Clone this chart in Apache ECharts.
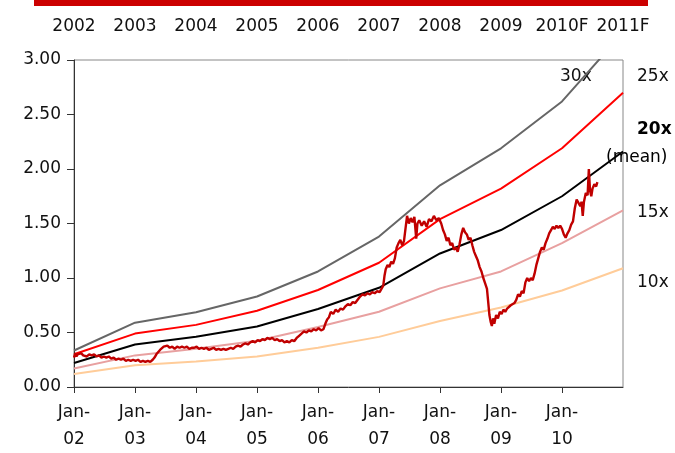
<!DOCTYPE html>
<html>
<head>
<meta charset="utf-8">
<script src="https://cdn.jsdelivr.net/npm/echarts@6/dist/echarts.min.js"></script>
<style>
  html, body { margin: 0; padding: 0; background: #fff; }
  #chart { width: 675px; height: 453px; }
</style>
</head>
<body>
<div id="chart"></div>
<script>
// PE band years (Jan of each year) and band values
var bandYears = [2002, 2003, 2004, 2005, 2006, 2007, 2008, 2009, 2010, 2011];
var pe30 = [0.335, 0.59, 0.685, 0.83, 1.06, 1.38, 1.85, 2.19, 2.62, 3.25];
var pe25 = [0.30, 0.49, 0.57, 0.70, 0.89, 1.14, 1.54, 1.82, 2.19, 2.70];
var pe20 = [0.22, 0.39, 0.46, 0.555, 0.715, 0.91, 1.225, 1.44, 1.75, 2.16];
var pe15 = [0.17, 0.29, 0.35, 0.425, 0.55, 0.69, 0.905, 1.06, 1.32, 1.62];
var pe10 = [0.12, 0.20, 0.235, 0.28, 0.36, 0.46, 0.605, 0.73, 0.885, 1.09];

var topLabels = ['2002', '2003', '2004', '2005', '2006', '2007', '2008', '2009', '2010F', '2011F'];
var bottomLabels = ['Jan-\n02', 'Jan-\n03', 'Jan-\n04', 'Jan-\n05', 'Jan-\n06', 'Jan-\n07', 'Jan-\n08', 'Jan-\n09', 'Jan-\n10'];
var yTicks = [0, 0.5, 1, 1.5, 2, 2.5, 3];

// share price, [year, value]
var price = [
  [2002.00,0.27],[2002.02,0.31],[2002.04,0.28],[2002.06,0.30],[2002.09,0.29],[2002.12,0.31],[2002.15,0.29],[2002.18,0.30],
  [2002.21,0.28],[2002.25,0.30],[2002.29,0.29],[2002.33,0.30],[2002.37,0.28],[2002.41,0.29],[2002.45,0.27],[2002.49,0.28],
  [2002.53,0.27],[2002.57,0.28],[2002.61,0.26],[2002.65,0.27],[2002.69,0.25],[2002.73,0.26],[2002.77,0.25],[2002.81,0.26],
  [2002.85,0.24],[2002.89,0.25],[2002.93,0.24],[2002.97,0.25],[2003.01,0.24],[2003.05,0.25],[2003.09,0.23],[2003.13,0.24],
  [2003.17,0.23],[2003.21,0.24],[2003.25,0.23],[2003.29,0.25],[2003.32,0.27],[2003.35,0.30],[2003.38,0.29],[2003.41,0.34],
  [2003.44,0.33],[2003.47,0.37],[2003.50,0.36],[2003.53,0.38],[2003.57,0.36],[2003.61,0.37],[2003.65,0.35],[2003.69,0.37],
  [2003.73,0.36],[2003.77,0.37],[2003.81,0.36],[2003.85,0.37],[2003.89,0.35],[2003.93,0.36],[2003.97,0.36],[2004.01,0.37],
  [2004.05,0.35],[2004.09,0.36],[2004.13,0.35],[2004.17,0.36],[2004.21,0.34],[2004.25,0.35],[2004.29,0.36],[2004.33,0.34],
  [2004.37,0.35],[2004.41,0.34],[2004.45,0.35],[2004.49,0.34],[2004.53,0.35],[2004.57,0.36],[2004.61,0.35],[2004.65,0.37],
  [2004.69,0.38],[2004.73,0.37],[2004.77,0.39],[2004.81,0.40],[2004.85,0.39],[2004.89,0.41],[2004.93,0.42],[2004.97,0.41],
  [2005.01,0.43],[2005.05,0.42],[2005.09,0.44],[2005.13,0.43],[2005.17,0.45],[2005.21,0.44],[2005.25,0.45],[2005.29,0.43],
  [2005.33,0.44],[2005.37,0.42],[2005.41,0.43],[2005.45,0.41],[2005.49,0.42],[2005.53,0.41],[2005.57,0.43],[2005.61,0.42],
  [2005.65,0.45],[2005.69,0.47],[2005.73,0.49],[2005.77,0.51],[2005.81,0.50],[2005.85,0.52],[2005.89,0.51],[2005.93,0.53],
  [2005.97,0.52],[2006.01,0.54],[2006.05,0.52],[2006.09,0.53],[2006.12,0.58],[2006.15,0.62],[2006.18,0.64],[2006.21,0.69],
  [2006.25,0.67],[2006.29,0.71],[2006.33,0.69],[2006.37,0.72],[2006.41,0.71],[2006.45,0.74],[2006.49,0.76],[2006.53,0.75],
  [2006.57,0.78],[2006.61,0.77],[2006.65,0.80],[2006.69,0.83],[2006.73,0.85],[2006.77,0.84],[2006.81,0.86],[2006.85,0.85],
  [2006.89,0.87],[2006.93,0.86],[2006.97,0.88],[2007.01,0.87],[2007.04,0.90],[2007.07,0.93],[2007.09,1.02],[2007.11,1.08],
  [2007.14,1.12],[2007.17,1.10],[2007.20,1.15],[2007.23,1.13],[2007.26,1.18],[2007.29,1.28],[2007.32,1.32],[2007.35,1.35],
  [2007.38,1.30],[2007.41,1.34],[2007.44,1.33],[2007.46,1.57],[2007.49,1.50],[2007.52,1.55],[2007.55,1.51],[2007.58,1.56],
  [2007.61,1.36],[2007.63,1.50],[2007.66,1.53],[2007.70,1.48],[2007.74,1.52],[2007.78,1.47],[2007.82,1.54],[2007.86,1.52],
  [2007.90,1.57],[2007.94,1.53],[2007.98,1.55],[2008.02,1.50],[2008.05,1.44],[2008.08,1.40],[2008.11,1.34],[2008.14,1.37],
  [2008.17,1.30],[2008.20,1.32],[2008.23,1.26],[2008.26,1.28],[2008.29,1.24],[2008.32,1.31],[2008.35,1.40],[2008.38,1.46],
  [2008.41,1.42],[2008.44,1.40],[2008.47,1.35],[2008.50,1.37],[2008.53,1.30],[2008.56,1.24],[2008.59,1.20],[2008.62,1.16],
  [2008.65,1.10],[2008.68,1.06],[2008.71,1.00],[2008.74,0.95],[2008.77,0.90],[2008.79,0.78],[2008.81,0.66],[2008.83,0.60],
  [2008.85,0.56],[2008.87,0.63],[2008.89,0.58],[2008.92,0.66],[2008.95,0.63],[2008.98,0.69],[2009.01,0.67],[2009.04,0.71],
  [2009.07,0.69],[2009.10,0.72],[2009.13,0.71],[2009.16,0.75],[2009.19,0.74],[2009.22,0.77],[2009.25,0.80],[2009.28,0.85],
  [2009.31,0.83],[2009.34,0.88],[2009.37,0.86],[2009.40,0.96],[2009.43,1.00],[2009.46,0.97],[2009.49,1.00],[2009.52,0.98],
  [2009.55,1.04],[2009.58,1.12],[2009.61,1.18],[2009.64,1.24],[2009.67,1.28],[2009.70,1.26],[2009.73,1.32],[2009.76,1.36],
  [2009.79,1.41],[2009.82,1.44],[2009.85,1.47],[2009.88,1.45],[2009.91,1.48],[2009.94,1.46],[2009.97,1.48],[2010.00,1.45],
  [2010.03,1.40],[2010.06,1.37],[2010.09,1.41],[2010.12,1.44],[2010.15,1.49],[2010.18,1.52],[2010.21,1.64],[2010.24,1.72],
  [2010.27,1.69],[2010.30,1.66],[2010.32,1.70],[2010.34,1.57],[2010.36,1.70],[2010.39,1.78],[2010.42,1.76],[2010.44,2.00],
  [2010.46,1.80],[2010.48,1.75],[2010.50,1.82],[2010.53,1.86],[2010.56,1.84],[2010.58,1.88]
];

function band(vals) {
  return bandYears.map(function (y, i) { return [y, vals[i]]; });
}

var chart = echarts.init(document.getElementById('chart'), null, { renderer: 'canvas' });
var font = 'DejaVu Sans, Verdana, sans-serif';

var option = {
  animation: false,
  textStyle: { fontFamily: font },
  grid: {
    left: 74, right: 52, top: 60, bottom: 59,
    show: true, borderColor: '#888', borderWidth: 1, backgroundColor: 'transparent'
  },
  xAxis: [{
    type: 'value', min: 2002, max: 2011, interval: 1, position: 'bottom',
    axisLine: { show: true, lineStyle: { color: '#333', width: 1 } },
    axisTick: { show: true, length: 6, lineStyle: { color: '#333' }, customValues: bandYears.slice(0, 9) },
    splitLine: { show: false },
    axisLabel: {
      color: '#111', fontSize: 17, lineHeight: 27, margin: 12, fontFamily: font,
      customValues: bandYears.slice(0, 9),
      formatter: function (v) { return bottomLabels[Math.round(v - 2002)]; }
    }
  }, {
    type: 'value', min: 2002, max: 2011, interval: 1, position: 'top',
    axisLine: { show: false }, axisTick: { show: false }, splitLine: { show: false },
    axisLabel: {
      color: '#111', fontSize: 17, margin: 25, fontFamily: font,
      customValues: bandYears,
      formatter: function (v) { return topLabels[Math.round(v - 2002)]; }
    }
  }],
  yAxis: {
    type: 'value', min: 0, max: 3, interval: 0.5,
    axisLine: { show: true, lineStyle: { color: '#333', width: 1 } },
    axisTick: { show: true, length: 7, lineStyle: { color: '#333' } },
    splitLine: { show: false },
    axisLabel: {
      color: '#111', fontSize: 17, margin: 13, fontFamily: font,
      customValues: yTicks,
      formatter: function (v) { return v.toFixed(2); }
    }
  },
  series: [
    { name: '10x', type: 'line', data: band(pe10), symbol: 'none', lineStyle: { color: '#FFCC99', width: 2 } },
    { name: '15x', type: 'line', data: band(pe15), symbol: 'none', lineStyle: { color: '#E8A0A0', width: 2 } },
    { name: '20x', type: 'line', data: band(pe20), symbol: 'none', lineStyle: { color: '#000000', width: 2 } },
    { name: '25x', type: 'line', data: band(pe25), symbol: 'none', lineStyle: { color: '#FF0000', width: 2 } },
    { name: '30x', type: 'line', data: band(pe30), symbol: 'none', lineStyle: { color: '#666666', width: 2 } },
    { name: 'Price', type: 'line', data: price, symbol: 'none', lineStyle: { color: '#C00000', width: 2.4 } }
  ],
  graphic: [
    { type: 'rect', shape: { x: 34, y: 0, width: 614, height: 6 }, style: { fill: '#CC0000' } },
    { type: 'text', x: 560, y: 77, style: { text: '30x', font: '17px ' + font, fill: '#111', verticalAlign: 'middle' } },
    { type: 'text', x: 637, y: 77, style: { text: '25x', font: '17px ' + font, fill: '#111', verticalAlign: 'middle' } },
    { type: 'text', x: 637, y: 130, style: { text: '20x', font: 'bold 17px ' + font, fill: '#000', verticalAlign: 'middle' } },
    { type: 'text', x: 606, y: 158, style: { text: '(mean)', font: '17px ' + font, fill: '#000', verticalAlign: 'middle' } },
    { type: 'text', x: 637, y: 213, style: { text: '15x', font: '17px ' + font, fill: '#111', verticalAlign: 'middle' } },
    { type: 'text', x: 637, y: 283, style: { text: '10x', font: '17px ' + font, fill: '#111', verticalAlign: 'middle' } }
  ]
};

chart.setOption(option);
</script>
</body>
</html>
